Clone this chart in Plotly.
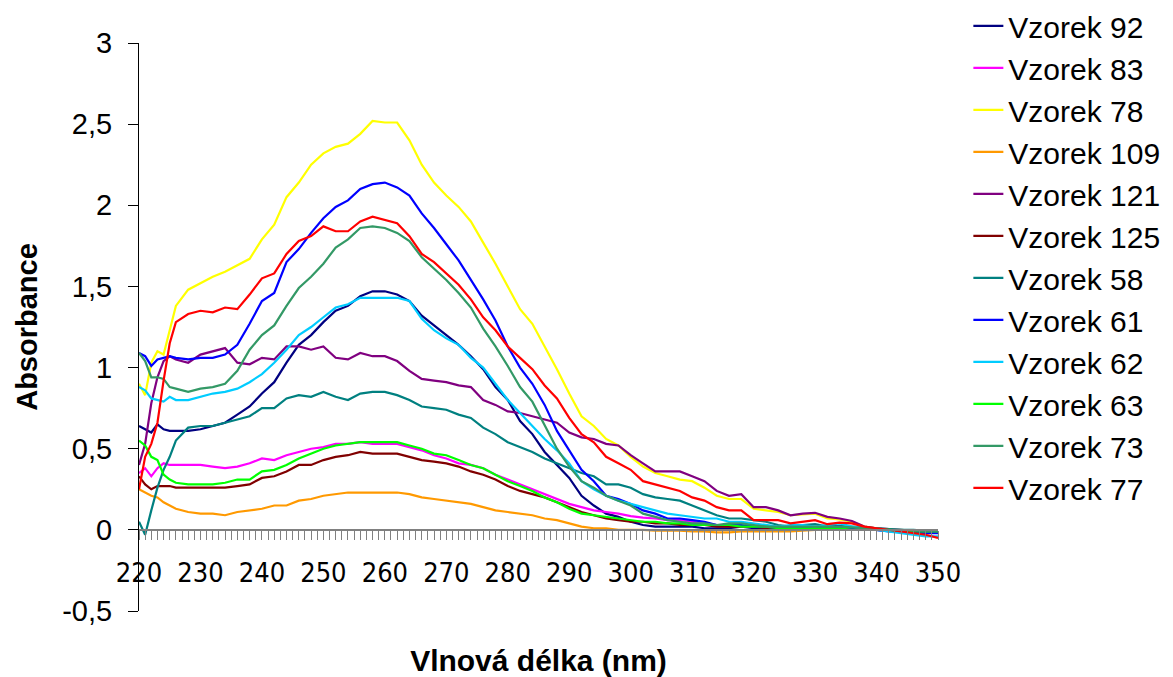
import plotly.graph_objects as go

wavelength = [220, 221, 222, 223, 224, 225, 226,
              228, 230, 232, 234, 236, 238, 240, 242, 244, 246, 248, 250, 252, 254, 256, 258, 260, 262, 264, 266, 268, 270,
              272, 274, 276, 278, 280, 282, 284, 286, 288, 290, 292, 294, 296, 298, 300, 302, 304, 306, 308, 310,
              312, 314, 316, 318, 320, 322, 324, 326, 328, 330, 332, 334, 336, 338, 340, 342, 344, 346, 348, 350]

v92 = [0.64, 0.62, 0.60, 0.65, 0.62, 0.61, 0.61,
       0.61, 0.62, 0.64, 0.66, 0.71, 0.76, 0.84, 0.91, 1.03, 1.14, 1.20, 1.28, 1.35, 1.38, 1.44, 1.47, 1.47, 1.45, 1.41, 1.32, 1.26, 1.20,
       1.14, 1.07, 0.99, 0.88, 0.80, 0.67, 0.59, 0.48, 0.40, 0.32, 0.21, 0.15, 0.10, 0.08, 0.05, 0.03, 0.02, 0.02, 0.02, 0.02,
       0.01, 0.01, 0.01, 0.02, 0.01, 0.01, 0.01, 0.01, 0.005, 0.01, 0.0, 0.0, 0.0, 0.0, 0.0, -0.005, -0.01, -0.01, -0.01, -0.01]
v83 = [0.35, 0.38, 0.33, 0.38, 0.41, 0.40, 0.40,
       0.40, 0.40, 0.39, 0.38, 0.39, 0.41, 0.44, 0.43, 0.46, 0.48, 0.50, 0.51, 0.53, 0.53, 0.54, 0.53, 0.53, 0.53, 0.51, 0.49, 0.46, 0.44,
       0.41, 0.40, 0.38, 0.34, 0.31, 0.28, 0.25, 0.22, 0.19, 0.16, 0.14, 0.12, 0.11, 0.10, 0.085, 0.075, 0.07, 0.06, 0.06, 0.05,
       0.04, 0.03, 0.03, 0.02, 0.02, 0.02, 0.01, 0.01, 0.01, 0.01, 0.01, 0.01, 0.0, 0.0, 0.0, -0.005, -0.01, -0.01, -0.01, -0.01]
v78 = [0.90, 0.83, 1.03, 1.10, 1.08, 1.23, 1.38,
       1.48, 1.52, 1.56, 1.59, 1.63, 1.67, 1.79, 1.88, 2.05, 2.14, 2.25, 2.32, 2.36, 2.38, 2.44, 2.52, 2.51, 2.51, 2.40, 2.25, 2.14, 2.06,
       1.99, 1.90, 1.77, 1.64, 1.50, 1.36, 1.27, 1.13, 0.99, 0.84, 0.70, 0.64, 0.56, 0.52, 0.45, 0.39, 0.35, 0.33, 0.31, 0.30,
       0.26, 0.21, 0.19, 0.19, 0.13, 0.12, 0.11, 0.09, 0.095, 0.10, 0.07, 0.065, 0.05, 0.02, 0.01, 0.0, -0.005, -0.01, -0.01, -0.02]
v109 = [0.25, 0.23, 0.21, 0.20, 0.17, 0.15, 0.13,
        0.11, 0.10, 0.10, 0.09, 0.11, 0.12, 0.13, 0.15, 0.15, 0.18, 0.19, 0.21, 0.22, 0.23, 0.23, 0.23, 0.23, 0.23, 0.22, 0.20, 0.19, 0.18,
        0.17, 0.16, 0.14, 0.12, 0.11, 0.10, 0.09, 0.07, 0.06, 0.04, 0.02, 0.01, 0.01, 0.0, 0.0, 0.0, -0.005, -0.005, -0.005, -0.01,
        -0.01, -0.015, -0.015, -0.01, -0.01, -0.01, -0.01, -0.01, -0.005, 0.0, 0.0, 0.0, 0.0, 0.0, 0.0, 0.0, -0.005, -0.005, -0.01, -0.01]
v121 = [0.40, 0.53, 0.78, 0.94, 1.04, 1.07, 1.05,
        1.03, 1.08, 1.10, 1.12, 1.03, 1.02, 1.06, 1.05, 1.13, 1.13, 1.11, 1.13, 1.06, 1.05, 1.09, 1.07, 1.07, 1.04, 0.98, 0.93, 0.92, 0.91,
        0.89, 0.88, 0.80, 0.77, 0.73, 0.72, 0.70, 0.68, 0.66, 0.60, 0.57, 0.56, 0.53, 0.52, 0.46, 0.41, 0.36, 0.36, 0.36, 0.33,
        0.30, 0.24, 0.21, 0.22, 0.14, 0.14, 0.12, 0.09, 0.10, 0.105, 0.08, 0.07, 0.055, 0.02, 0.01, 0.005, 0.0, -0.005, -0.01, -0.01]
v125 = [0.33, 0.28, 0.25, 0.27, 0.27, 0.27, 0.26,
        0.26, 0.26, 0.26, 0.26, 0.27, 0.28, 0.32, 0.33, 0.36, 0.40, 0.40, 0.43, 0.45, 0.46, 0.48, 0.47, 0.47, 0.47, 0.45, 0.43, 0.42, 0.41,
        0.39, 0.36, 0.34, 0.31, 0.27, 0.24, 0.22, 0.20, 0.17, 0.14, 0.11, 0.09, 0.07, 0.06, 0.05, 0.05, 0.04, 0.04, 0.03, 0.03,
        0.03, 0.02, 0.02, 0.02, 0.02, 0.01, 0.01, 0.01, 0.01, 0.0, 0.0, 0.0, 0.0, 0.0, 0.0, 0.0, -0.005, -0.005, -0.01, -0.01]
v58 = [0.05, -0.03, 0.12, 0.26, 0.37, 0.45, 0.55,
       0.63, 0.64, 0.64, 0.66, 0.68, 0.70, 0.75, 0.75, 0.81, 0.83, 0.82, 0.85, 0.82, 0.80, 0.84, 0.85, 0.85, 0.83, 0.80, 0.76, 0.75, 0.74,
       0.71, 0.69, 0.63, 0.59, 0.54, 0.51, 0.48, 0.44, 0.41, 0.38, 0.35, 0.33, 0.28, 0.28, 0.26, 0.22, 0.20, 0.19, 0.18, 0.15,
       0.12, 0.09, 0.07, 0.07, 0.06, 0.05, 0.03, 0.02, 0.03, 0.035, 0.02, 0.025, 0.02, 0.015, 0.01, 0.005, 0.0, 0.0, -0.005, -0.01]
v61 = [1.09, 1.07, 1.01, 1.05, 1.06, 1.07, 1.06,
       1.05, 1.06, 1.06, 1.08, 1.14, 1.27, 1.41, 1.46, 1.65, 1.73, 1.83, 1.92, 1.99, 2.03, 2.10, 2.13, 2.14, 2.11, 2.06, 1.95, 1.86, 1.76,
       1.66, 1.54, 1.42, 1.29, 1.13, 1.00, 0.90, 0.77, 0.61, 0.49, 0.37, 0.30, 0.21, 0.19, 0.16, 0.12, 0.10, 0.07, 0.07, 0.06,
       0.05, 0.03, 0.03, 0.03, 0.02, 0.02, 0.01, 0.01, 0.02, 0.01, 0.02, 0.02, 0.01, 0.0, 0.0, -0.01, -0.01, -0.015, -0.02, -0.02]
v62 = [0.88, 0.86, 0.81, 0.80, 0.79, 0.82, 0.80,
       0.80, 0.82, 0.84, 0.85, 0.87, 0.91, 0.96, 1.03, 1.11, 1.20, 1.25, 1.31, 1.37, 1.39, 1.43, 1.43, 1.43, 1.43, 1.41, 1.30, 1.23, 1.18,
       1.14, 1.06, 1.00, 0.90, 0.80, 0.72, 0.64, 0.56, 0.49, 0.41, 0.30, 0.25, 0.21, 0.18, 0.16, 0.14, 0.12, 0.10, 0.09, 0.08,
       0.07, 0.07, 0.05, 0.05, 0.04, 0.03, 0.02, 0.03, 0.03, 0.02, 0.03, 0.04, 0.02, 0.01, 0.0, -0.01, -0.02, -0.03, -0.04, -0.04]
v63 = [0.55, 0.52, 0.45, 0.43, 0.34, 0.31, 0.29,
       0.28, 0.28, 0.28, 0.29, 0.31, 0.31, 0.36, 0.37, 0.40, 0.44, 0.47, 0.50, 0.52, 0.53, 0.54, 0.54, 0.54, 0.54, 0.52, 0.50, 0.47, 0.46,
       0.43, 0.40, 0.38, 0.34, 0.30, 0.27, 0.24, 0.20, 0.17, 0.13, 0.10, 0.09, 0.08, 0.07, 0.06, 0.05, 0.05, 0.04, 0.04, 0.03,
       0.03, 0.03, 0.03, 0.02, 0.02, 0.02, 0.01, 0.01, 0.01, 0.01, 0.01, 0.01, 0.0, 0.0, 0.0, 0.0, -0.005, -0.01, -0.01, -0.01]
v73 = [1.09, 1.04, 0.94, 0.94, 0.93, 0.88, 0.87,
       0.85, 0.87, 0.88, 0.90, 0.98, 1.11, 1.20, 1.26, 1.38, 1.49, 1.56, 1.64, 1.74, 1.79, 1.86, 1.87, 1.86, 1.83, 1.78, 1.68, 1.61, 1.54,
       1.46, 1.37, 1.24, 1.13, 1.01, 0.88, 0.79, 0.64, 0.50, 0.39, 0.30, 0.26, 0.21, 0.18, 0.15, 0.10, 0.08, 0.06, 0.05, 0.04,
       0.04, 0.03, 0.04, 0.04, 0.03, 0.02, 0.02, 0.02, 0.02, 0.02, 0.02, 0.02, 0.015, 0.01, 0.01, 0.0, 0.0, -0.005, -0.01, -0.01]
v77 = [0.25, 0.45, 0.53, 0.66, 0.92, 1.15, 1.28,
       1.33, 1.35, 1.34, 1.37, 1.36, 1.45, 1.55, 1.58, 1.70, 1.78, 1.81, 1.87, 1.84, 1.84, 1.90, 1.93, 1.91, 1.89, 1.81, 1.70, 1.65, 1.58,
       1.51, 1.42, 1.31, 1.23, 1.13, 1.06, 0.99, 0.89, 0.81, 0.69, 0.59, 0.54, 0.45, 0.41, 0.37, 0.30, 0.28, 0.26, 0.24, 0.20,
       0.18, 0.14, 0.12, 0.12, 0.06, 0.06, 0.06, 0.04, 0.05, 0.06, 0.035, 0.045, 0.04, 0.02, 0.01, 0.0, -0.01, -0.02, -0.03, -0.05]

series_names = ["Vzorek 92", "Vzorek 83", "Vzorek 78", "Vzorek 109", "Vzorek 121", "Vzorek 125",
                "Vzorek 58", "Vzorek 61", "Vzorek 62", "Vzorek 63", "Vzorek 73", "Vzorek 77"]
series_values = [v92, v83, v78, v109, v121, v125, v58, v61, v62, v63, v73, v77]
series_colors = ["#000080", "#FF00FF", "#FFFF00", "#FF9900", "#800080", "#800000",
                 "#008080", "#0000FF", "#00CCFF", "#00FF00", "#339966", "#FF0000"]

y_ticks = [-0.5, 0, 0.5, 1, 1.5, 2, 2.5, 3]
y_tick_text = ["-0,5", "0", "0,5", "1", "1,5", "2", "2,5", "3"]

FONT = "Liberation Sans, Arial, sans-serif"

fig = go.Figure()
for name, vals, color in zip(series_names, series_values, series_colors):
    fig.add_trace(go.Scatter(x=wavelength, y=vals, mode="lines", name=name,
                             line=dict(color=color, width=2.2)))

fig.update_layout(
    width=1173, height=677,
    margin=dict(l=139, r=235, t=43, b=66, autoexpand=False),
    paper_bgcolor="white", plot_bgcolor="white",
    font=dict(family=FONT, color="black"),
    legend=dict(x=1.038, y=1.076, xanchor="left", yanchor="top",
                font=dict(size=30, family=FONT, color="black"),
                bgcolor="rgba(0,0,0,0)",
                traceorder="normal", maxheight=677),
)
fig.update_xaxes(
    range=[220, 350], anchor="free", position=0.5 / 3.5,
    showline=True, linecolor="#808080", linewidth=2,
    ticks="outside", ticklen=9, tickcolor="#808080", tickwidth=1,
    tick0=220, dtick=10,
    minor=dict(dtick=1, tick0=220, ticks="outside", ticklen=9, tickcolor="#808080", tickwidth=1),
    showgrid=False, zeroline=False,
    tickfont=dict(size=27, family="Liberation Sans Narrow, DejaVu Sans Condensed, Arial Narrow, Liberation Sans, sans-serif", color="black"),
    ticklabelstandoff=10,
    title=dict(text="<b>Vlnová délka (nm)</b>", font=dict(size=30, family=FONT, color="black"), standoff=66),
)
fig.update_yaxes(
    range=[-0.5, 3], showline=True, linecolor="black", linewidth=1,
    ticks="outside", ticklen=10, tickcolor="black", tickwidth=1,
    tickvals=y_ticks, ticktext=y_tick_text,
    showgrid=False, zeroline=False,
    tickfont=dict(size=29, family=FONT, color="black"),
    ticklabelstandoff=10,
    title=dict(text="<b>Absorbance</b>", font=dict(size=29, family=FONT, color="black"), standoff=16),
)

fig.write_html("out.html", config={"displayModeBar": False},
               post_script="document.body.style.margin='0px';document.body.style.overflow='hidden';")
